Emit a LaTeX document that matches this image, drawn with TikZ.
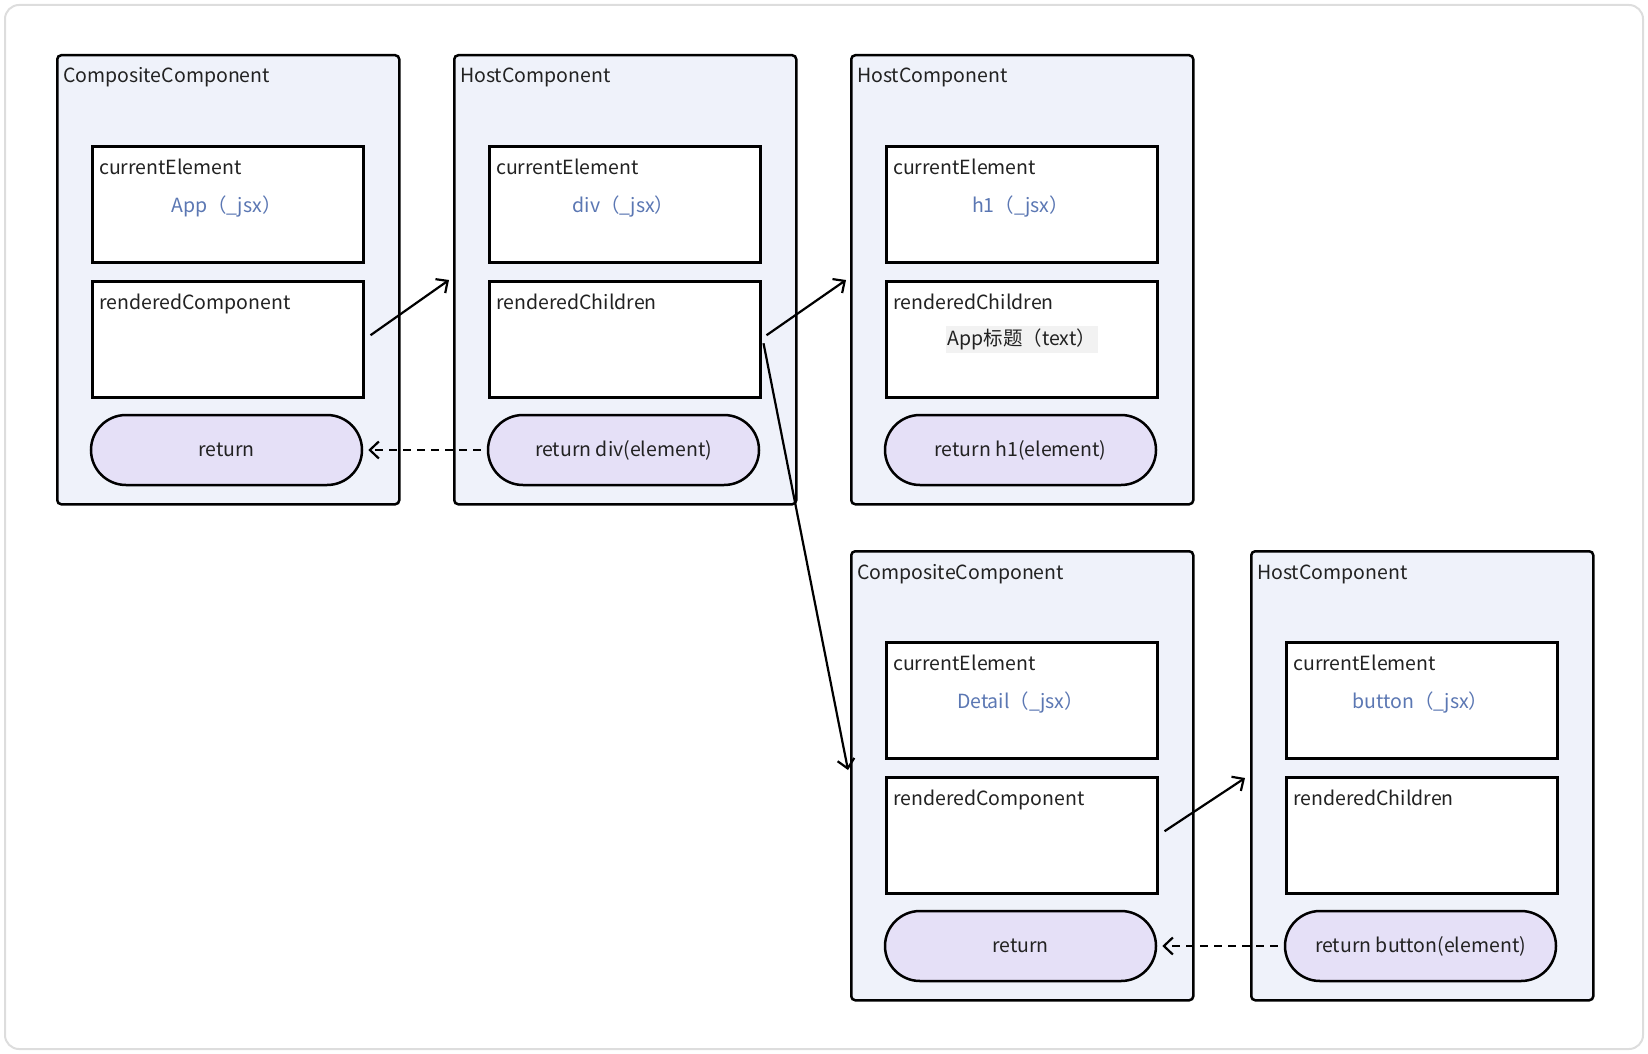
\documentclass[tikz,border=0pt]{standalone}
\usepackage{fontspec}
\setmainfont{Noto Sans CJK SC}
\usetikzlibrary{positioning,calc,arrows.meta}

\definecolor{boxfill}{HTML}{EFF2FA}
\definecolor{retfill}{HTML}{E5E0F7}
\definecolor{jsxblue}{HTML}{5B77B3}
\definecolor{ink}{HTML}{222222}
\definecolor{framegray}{HTML}{DDDDDD}

\tikzset{
  comp/.style={draw=black,line width=2.5pt,fill=boxfill,rounded corners=4pt,
    anchor=north west,minimum width=342pt,minimum height=449pt,inner sep=0pt},
  field/.style={draw=black,line width=2.5pt,fill=white,anchor=north west,
    minimum width=271pt,minimum height=116pt,inner sep=0pt},
  lbl/.style={anchor=base west,inner sep=0pt,text=ink},
  jsx/.style={anchor=base,inner sep=0pt,text=jsxblue},
  ret/.style={draw=black,line width=2.5pt,fill=retfill,rounded corners=35pt,
    minimum width=271pt,minimum height=70pt,inner sep=0pt,text=ink},
  link/.style={line width=2.2pt,-{Straight Barb[length=9pt,width=17pt]}},
  back/.style={link,dash pattern=on 8pt off 6pt},
}

% one component: name, x, y, title, jsx text, second field, return text
\newcommand\CompBox[7]{%
  \node[comp] (#1) at (#2,#3) {};
  \node[lbl] (#1-name) at (#2+7,#3+29) {#4};
  \node[field] (#1-ce) at (#2+35,#3+91) {};
  \node[lbl] (#1-cel) at (#2+43,#3+120) {currentElement};
  \node[jsx] (#1-jsx) at (#2+170.5,#3+158) {#5};
  \node[field] (#1-rc) at (#2+35,#3+226) {};
  \node[lbl] (#1-rcl) at (#2+43,#3+255) {#6};
  \node[ret] (#1-ret) at (#2+170.5,#3+396) {#7};
}

\begin{document}
\begin{tikzpicture}[x=1pt,y=-1pt,font=\fontsize{19.5}{24}\selectfont]
    \useasboundingbox (0,0) rectangle (1648,1054);
    \draw[framegray,line width=2pt,rounded corners=14pt] (5,5) rectangle (1643,1049);

    \CompBox{app}{56}{54}{CompositeComponent}{App（\_jsx）}{renderedComponent}{return}
    \CompBox{div}{453}{54}{HostComponent}{div（\_jsx）}{renderedChildren}{return div(element)}
    \CompBox{hone}{850}{54}{HostComponent}{h1（\_jsx）}{renderedChildren}{return h1(element)}
    \CompBox{detail}{850}{550}{CompositeComponent}{Detail（\_jsx）}{renderedComponent}{return}
    \CompBox{button}{1250}{550}{HostComponent}{button（\_jsx）}{renderedChildren}{return button(element)}

    \node[fill=black!5,text=ink,inner xsep=2pt,inner ysep=0pt,minimum height=27pt]
      (hone-text) at (hone-rc.center) {App标题（text）};

    % render links
    \draw[link] ($(app-rc.east)+(6,-4)$) -- ($(div.west |- div-rc.north)+(-4,0)$);
    \draw[link] ($(div-rc.east)+(5,-4)$) -- ($(hone.west |- hone-rc.north)+(-4,0)$);
    \draw[link] ($(div-rc.east)+(2,4)$) -- ($(detail.west |- detail-rc.north)+(-2,-6)$);
    \draw[link] ($(detail-rc.east)+(6,-4)$) -- ($(button.west |- button-rc.north)+(-5,2)$);

    % returned elements
    \draw[back] ($(div-ret.west)+(-6,0)$) -- ($(app-ret.east)+(5,0)$);
    \draw[back] ($(button-ret.west)+(-6,0)$) -- ($(detail-ret.east)+(5,0)$);
\end{tikzpicture}
\end{document}
